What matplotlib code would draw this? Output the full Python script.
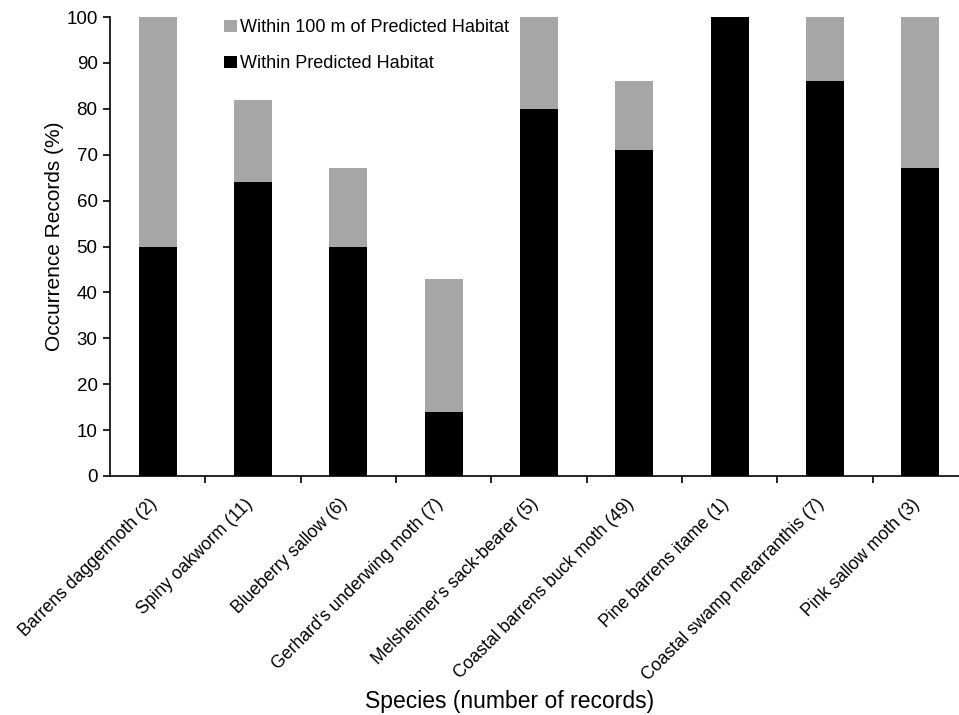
import matplotlib.pyplot as plt
import matplotlib.transforms as mtransforms
import numpy as np

plt.rcParams['font.family'] = ['Liberation Sans', 'DejaVu Sans']

species = ["Barrens daggermoth (2)", "Spiny oakworm (11)", "Blueberry sallow (6)",
           "Gerhard's underwing moth (7)", "Melsheimer's sack-bearer (5)",
           "Coastal barrens buck moth (49)", "Pine barrens itame (1)",
           "Coastal swamp metarranthis (7)", "Pink sallow moth (3)"]
within = [50, 64, 50, 14, 80, 71, 100, 86, 67]
within_100m = [50, 18, 17, 29, 20, 15, 0, 14, 33]

fig = plt.figure(figsize=(9.59, 7.15), dpi=100)
# axis runs off the right edge of the figure
ax = fig.add_axes([110 / 959, 1 - 476 / 715, 858 / 959, 459 / 715])

x = np.arange(len(species))
ax.bar(x, within, width=0.4, color='black', label='Within Predicted Habitat')
ax.bar(x, within_100m, width=0.4, bottom=within, color='#a6a6a6',
       label='Within 100 m of Predicted Habitat')

ax.set_xlim(-0.5, len(species) - 0.5)
ax.set_ylim(0, 100)
ax.set_yticks(range(0, 101, 10))
ax.set_xticks(x)
ax.set_xticklabels(species, rotation=45, ha='right', rotation_mode='anchor', fontsize=12.7)
ax.tick_params(axis='x', which='major', length=0, pad=14)
ax.set_xticks(np.arange(0.5, len(species) - 0.5), minor=True)
ax.tick_params(axis='x', which='minor', length=5, width=1.2, direction='out')
ax.tick_params(axis='y', length=5, width=1.2, direction='out', labelsize=13.5, pad=4)

# nudge the slanted labels a little to the left
shift = mtransforms.ScaledTranslation(-9 / 100, 0, fig.dpi_scale_trans)
for lbl in ax.get_xticklabels():
    lbl.set_transform(lbl.get_transform() + shift)

for s in ['top', 'right']:
    ax.spines[s].set_visible(False)
for s in ['left', 'bottom']:
    ax.spines[s].set_linewidth(1.2)

ax.set_ylabel('Occurrence Records (%)', fontsize=15)
ax.yaxis.set_label_coords(-0.0536, 0.522)
ax.set_xlabel('Species (number of records)', fontsize=16.5)
ax.xaxis.set_label_coords(0.466, -0.466)

handles, labels = ax.get_legend_handles_labels()
ax.legend(handles[::-1], labels[::-1], loc='upper left',
          bbox_to_anchor=(208 / 959, 1 - 3 / 715), bbox_transform=fig.transFigure,
          frameon=False, fontsize=13, handlelength=0.7, handleheight=0.7,
          handletextpad=0.15, labelspacing=1.05)

fig.savefig('out.png', dpi=100)
